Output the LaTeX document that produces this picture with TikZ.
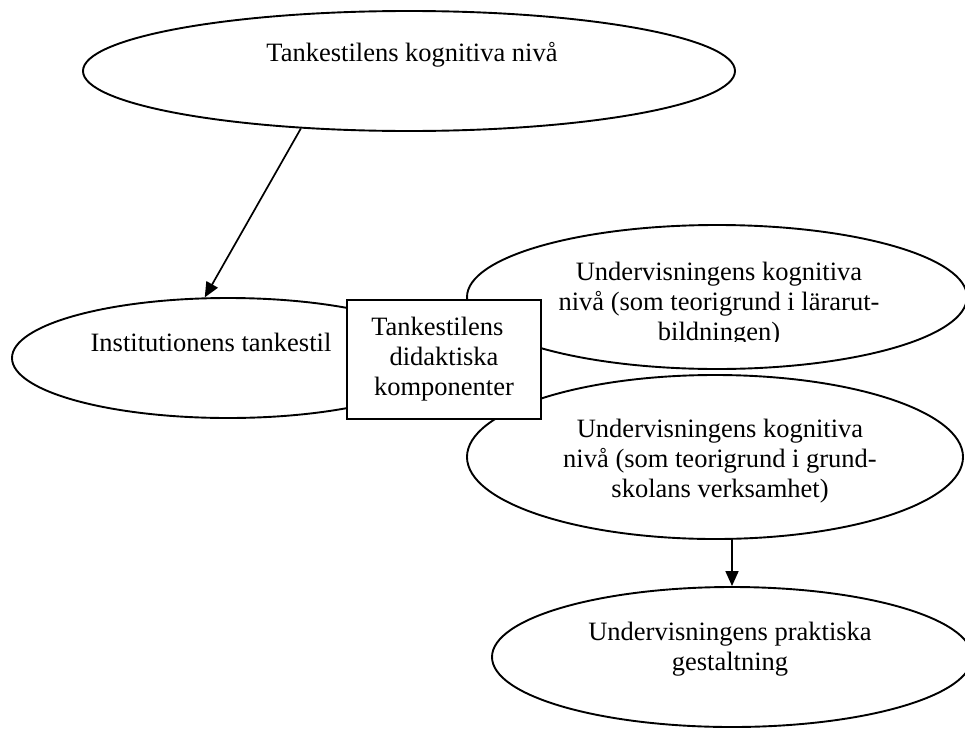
\documentclass[tikz,border=0pt]{standalone}
\usepackage{fontspec}
\setmainfont{Liberation Serif}
\usetikzlibrary{shapes.geometric,arrows.meta}
\begin{document}
\begin{tikzpicture}[x=1pt,y=-1pt,
  ell/.style={ellipse,draw,line width=1.9pt,fill=white,inner sep=0pt},
  boxnode/.style={rectangle,draw,line width=1.9pt,fill=white,inner sep=0pt,align=center,font=\fontsize{26.5}{30}\selectfont},
  txt/.style={align=center,inner sep=0pt,font=\fontsize{26.5}{30}\selectfont},
  arr/.style={line width=1.7pt,-{Triangle[length=15pt,width=13pt]}}]
\useasboundingbox (0,0) rectangle (965,728);
\clip (0,0) rectangle (965,728);

% top ellipse
\node[ell,minimum width=652pt,minimum height=120pt] (top) at (409,71) {};
\node[txt] (toptxt) at (412,55) {Tankestilens kognitiva nivå};

% institutionens ellipse
\node[ell,minimum width=432pt,minimum height=120pt] (inst) at (228,358) {};
\node[txt] (insttxt) at (211,342) {Institutionens tankestil};

% arrow top -> inst
\draw[arr] (top.208.8) -- (inst.111.3);

% upper right ellipse
\node[ell,minimum width=500pt,minimum height=144pt] (ur) at (717,297) {};
\begin{scope}
\clip (455,200) rectangle (975,341);
\node[txt] (urtxt) at (719,304) {Undervisningens kognitiva\\nivå (som teorigrund i lärarut-\\bildningen)};
\end{scope}

% lower right ellipse
\node[ell,minimum width=496pt,minimum height=164pt] (lr) at (715,457) {};
\node[txt] (lrtxt) at (720,461) {Undervisningens kognitiva\\nivå (som teorigrund i grund-\\skolans verksamhet)};

% bottom ellipse
\node[ell,minimum width=480pt,minimum height=140pt] (bot) at (732,657) {};
\node[txt] (bottxt) at (730,649) {Undervisningens praktiska\\gestaltning};

% arrow lr -> bot
\draw[arr] (bot.north |- lr.south) -- (bot.north);

% central box
\node[boxnode,minimum width=194pt,minimum height=119pt] (box) at (444,359.5) {Tankestilens\hspace*{0.5em}\\didaktiska\\komponenter};
\end{tikzpicture}
\end{document}
